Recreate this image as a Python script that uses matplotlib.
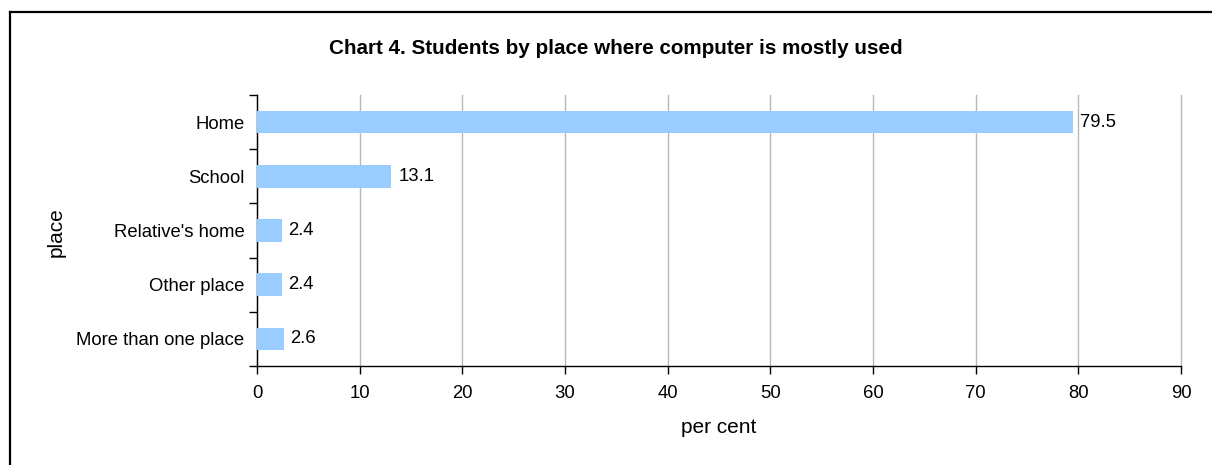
import matplotlib
matplotlib.use("Agg")
import matplotlib.pyplot as plt
from matplotlib.lines import Line2D

categories = ["Home", "School", "Relative's home", "Other place", "More than one place"]
values = [79.5, 13.1, 2.4, 2.4, 2.6]
xticks = [0, 10, 20, 30, 40, 50, 60, 70, 80, 90]

plt.rcParams['font.family'] = ['Liberation Sans', 'DejaVu Sans']

W, H = 1212, 465
fig = plt.figure(figsize=(W / 100, H / 100), dpi=100)
ax = fig.add_axes([257 / W, 1 - 366 / H, (1181 - 257) / W, (366 - 95) / H])

n = len(categories)
ypos = list(range(n))
ax.barh(ypos, values, height=0.42, color='#99CCFF', zorder=3)
ax.set_ylim(n - 0.5, -0.5)
ax.set_xlim(0, 90)
ax.set_xticks(xticks)
ax.set_xticklabels([str(t) for t in xticks], fontsize=13.3)

ax.set_yticks(ypos)
ax.set_yticklabels(categories, fontsize=13.3)
ax.tick_params(axis='y', length=0, pad=9)
ax.set_yticks([i - 0.5 for i in range(n + 1)], minor=True)
ax.tick_params(axis='y', which='minor', length=6, width=1, color='black', direction='out')
ax.tick_params(axis='x', length=6, width=1, direction='out', pad=8)

ax.grid(axis='x', color='#B8B8B8', linewidth=1, zorder=0)
for gl in ax.get_xgridlines():
    gl.set_clip_on(False)
for s in ['top', 'right']:
    ax.spines[s].set_visible(False)
ax.spines['left'].set_linewidth(1)
ax.spines['bottom'].set_linewidth(1)

for y, v in zip(ypos, values):
    ax.text(v + 0.65, y, f"{v}", va='center', ha='left', fontsize=13.3, zorder=4)

ax.set_xlabel("per cent", fontsize=15, labelpad=11)
ax.set_ylabel("place", fontsize=15)
ax.yaxis.set_label_coords(66 / W, 0.5, transform=fig.transFigure)

fig.text(616 / W, 1 - 48 / H, "Chart 4. Students by place where computer is mostly used",
         ha='center', va='center', fontsize=14.9, fontweight='bold')

# figure frame lines
fig.add_artist(Line2D([10 / W, 10 / W], [0, 1 - 12 / H], transform=fig.transFigure, color='black', linewidth=1.6))
fig.add_artist(Line2D([10 / W, 1], [1 - 12 / H, 1 - 12 / H], transform=fig.transFigure, color='black', linewidth=1.6))

fig.savefig("out.png", dpi=100)
